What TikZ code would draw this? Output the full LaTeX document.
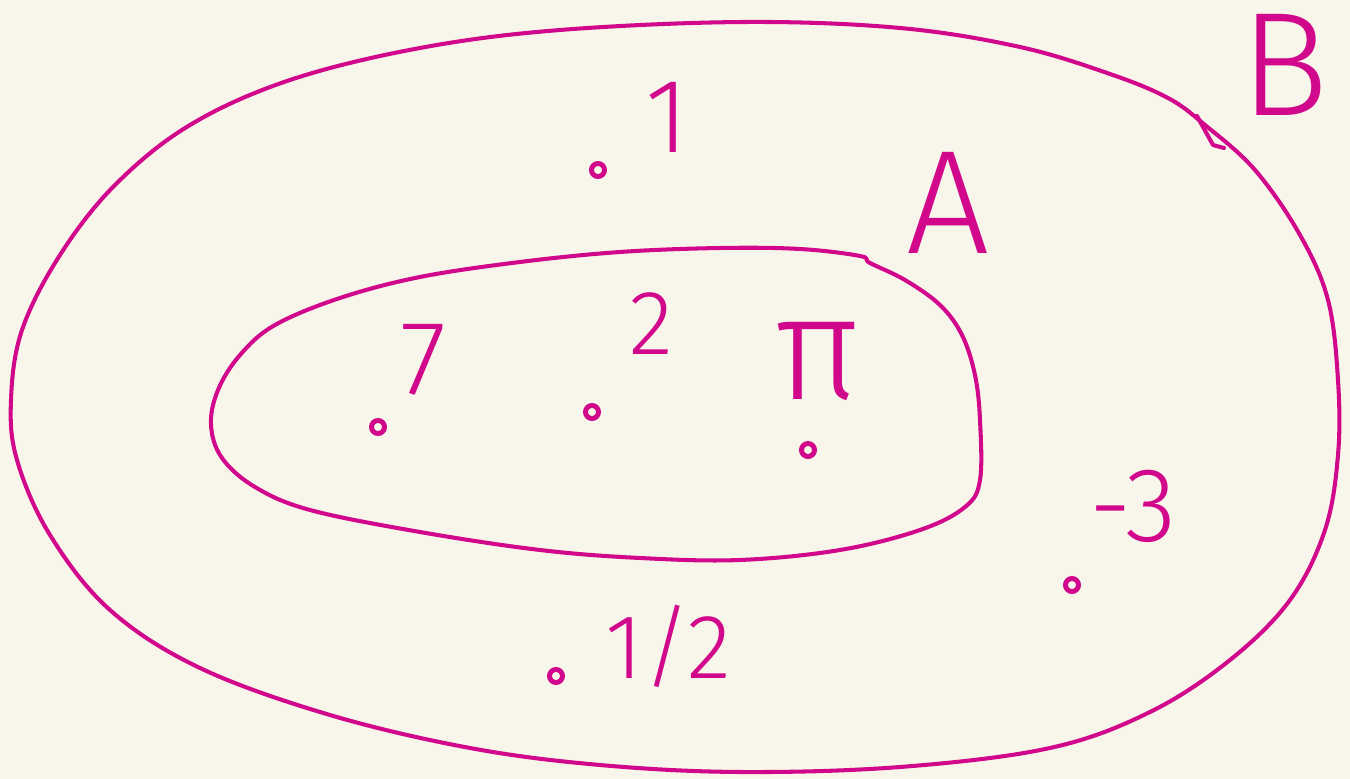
\documentclass[tikz,border=0pt]{standalone}
\usepackage{fontspec}
\usepackage{tikz}
\usetikzlibrary{calc, positioning}
\newfontfamily\handfont{Fira Sans Light}
\definecolor{penpink}{HTML}{D1078C}
\definecolor{paper}{HTML}{F8F6EA}
\tikzset{
  setline/.style={draw=penpink, line width=1.15pt, line cap=round, line join=round},
  elem/.style={
    circle, draw=penpink, line width=1.4pt, inner sep=0pt,
    minimum size=0.13cm
  },
  elemlabel/.style={text=penpink, inner sep=0pt, font=\handfont\fontsize{30}{30}\selectfont},
  setlabel/.style={text=penpink, inner sep=0pt, font=\handfont\fontsize{42}{42}\selectfont},
}

\begin{document}
\begin{tikzpicture}[x=0.01cm, y=-0.01cm]

  % --- Papier ---
  \fill[paper] (0,0) rectangle (1350,779);
  \useasboundingbox (0,0) rectangle (1350,779);

  % --- Menge B (aussen) ---
  \draw[setline] plot[smooth cycle, tension=0.6] coordinates {
    (745,22) (900,28) (1020,47) (1110,74) (1168,98) (1205,125)
    (1255,170) (1300,235) (1328,300) (1338,380) (1338,455)
    (1325,530) (1290,600) (1230,660) (1150,712) (1050,748)
    (900,767) (740,772) (600,765) (470,748) (330,715) (200,668)
    (110,610) (50,535) (17,460) (11,400) (22,330) (60,255)
    (115,185) (190,125) (290,80) (420,48) (560,30)};
  \draw[setline] (1197,116) -- (1213,145) -- (1224,148);

  % --- Menge A (innen) ---
  \draw[setline] plot[smooth cycle, tension=0.6] coordinates {
    (860,256) (800,249) (720,248) (620,252) (520,262) (420,277)
    (340,298) (275,325) (240,355) (218,390) (211,425) (222,458)
    (255,487) (310,510) (420,532) (540,550) (640,558) (740,560)
    (840,550) (920,530) (965,507) (980,480) (980,420) (975,375)
    (962,335) (940,305) (905,280) (870,263)};

  % --- Mengennamen ---
  \node[setlabel] (nameA) at (948,203) {A};
  \node[setlabel] (nameB) at (1285,65) {B};

  % --- Elemente in A ---
  \node[elem] (pseven) at (378,427) {};
  \node[elemlabel, above right=0.25cm and 0.15cm of pseven] (lseven) {7};
  \node[elem] (ptwo) at (592,412) {};
  \node[elemlabel, above right=0.5cm and 0.3cm of ptwo, font=\handfont\fontsize{26}{26}\selectfont] (ltwo) {2};
  \node[elem] (ppi) at (808,450) {};
  \node[elemlabel, above=0.4cm of ppi, xshift=0.1cm, font=\handfont\fontsize{42}{42}\selectfont] (lpi) {π};

  % --- Elemente nur in B ---
  \node[elem] (pone) at (598,170) {};
  \node[elemlabel, above right=0.1cm and 0.4cm of pone] (lone) {1};
  \node[elem] (pminus) at (1072,585) {};
  \node[elemlabel, above right=0.35cm and 0.1cm of pminus] (lminus) {-3};
  \node[elem] (phalf) at (556,676) {};
  \node[elemlabel, right=0.4cm of phalf, yshift=0.3cm, font=\handfont\fontsize{26}{26}\selectfont] (lhalf) {1/2};

\end{tikzpicture}
\end{document}
